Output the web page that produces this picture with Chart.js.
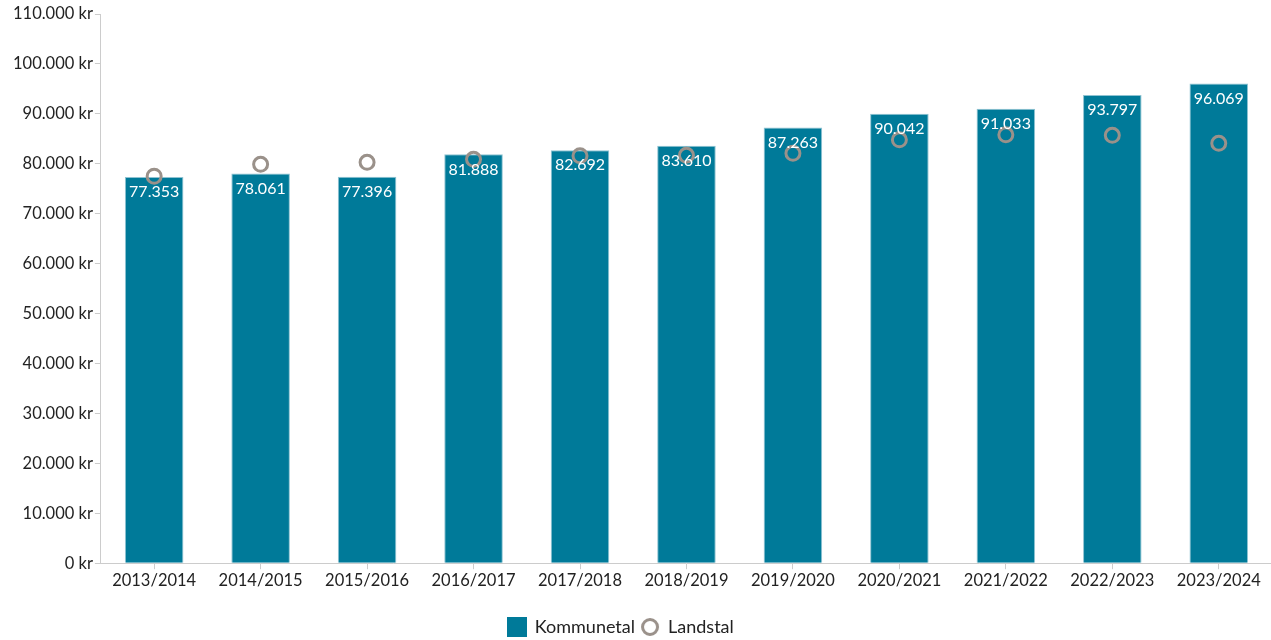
<!DOCTYPE html>
<html>
<head>
<meta charset="utf-8">
<script src="https://cdn.jsdelivr.net/npm/chart.js@4.4.1/dist/chart.umd.min.js"></script>
<style>
  html, body { margin: 0; padding: 0; background: #fff; overflow: hidden; }
  #wrap { width: 1282px; height: 640px; }
</style>
</head>
<body>
<div id="wrap"><canvas id="myChart"></canvas></div>
<script>
const years = ["2013/2014", "2014/2015", "2015/2016", "2016/2017", "2017/2018", "2018/2019",
  "2019/2020", "2020/2021", "2021/2022", "2022/2023", "2023/2024"];
const kommunetal = [77353, 78061, 77396, 81888, 82692, 83610, 87263, 90042, 91033, 93797, 96069];
const landstal = [77500, 79900, 80300, 80900, 81600, 81700, 82100, 84800, 85800, 85700, 84100];

function formatKr(v) {
  return String(Math.round(v)).replace(/\B(?=(\d{3})+(?!\d))/g, ".");
}

// legend symbols drawn as small images
function legendCircle() {
  let c = document.createElement("canvas");
  c.width = 20;
  c.height = 20;
  let g = c.getContext("2d");
  g.strokeStyle = "#9a918a";
  g.lineWidth = 3;
  g.beginPath();
  g.arc(10, 10, 7.5, 0, Math.PI * 2);
  g.stroke();
  return c;
}

function legendSquare() {
  let c = document.createElement("canvas");
  c.width = 20;
  c.height = 20;
  let g = c.getContext("2d");
  g.fillStyle = "#007A99";
  g.fillRect(0, 0, 20, 20);
  return c;
}

const barLabels = {
  id: "barLabels",
  afterDatasetsDraw(chart) {
    const ctx = chart.ctx;
    const meta = chart.getDatasetMeta(0);
    ctx.save();
    ctx.fillStyle = "#ffffff";
    ctx.font = "16px Lato";
    ctx.textAlign = "center";
    ctx.textBaseline = "middle";
    meta.data.forEach(function (bar, i) {
      ctx.fillText(formatKr(kommunetal[i]), bar.x, bar.y + 15);
    });
    ctx.restore();
  }
};

Chart.defaults.font.family = "Lato";
Chart.defaults.color = "#222";

var chartInsertion = document.getElementById("myChart").getContext("2d");
var circleImg = legendCircle();
var squareImg = legendSquare();
var paymentChart = new Chart(chartInsertion, {
  type: "bar",
  data: {
    labels: years,
    datasets: [
      {
        label: "Kommunetal",
        data: kommunetal,
        backgroundColor: "#007A99",
        borderColor: "#8fc3d2",
        borderWidth: 1,
        barPercentage: 0.55,
        categoryPercentage: 1,
        order: 2
      },
      {
        type: "line",
        label: "Landstal",
        data: landstal,
        showLine: false,
        pointStyle: "circle",
        pointRadius: 7,
        pointHoverRadius: 7,
        pointBorderWidth: 3,
        pointBorderColor: "#9a918a",
        pointBackgroundColor: "rgba(0,0,0,0)",
        backgroundColor: "#ffffff",
        borderColor: "#9a918a",
        order: 1
      }
    ]
  },
  options: {
    responsive: true,
    maintainAspectRatio: false,
    animation: false,
    layout: { padding: { left: 11, right: 0, top: 14, bottom: -6 } },
    plugins: {
      legend: {
        position: "bottom",
        labels: {
          usePointStyle: true,
          boxHeight: 20,
          font: { size: 18 },
          color: "#222",
          padding: 6,
          generateLabels: function (chart) {
            return [
              { text: "Kommunetal", pointStyle: squareImg, fillStyle: "#007A99", strokeStyle: "#007A99",
                lineWidth: 0, datasetIndex: 0, fontColor: "#222" },
              { text: "Landstal", pointStyle: circleImg, fillStyle: "#fff", strokeStyle: "#9a918a",
                lineWidth: 0, datasetIndex: 1, fontColor: "#222" },
              // empty spacer so the visible items sit a bit left of centre
              { text: "    ", pointStyle: "rect", fillStyle: "rgba(0,0,0,0)", strokeStyle: "rgba(0,0,0,0)",
                lineWidth: 0, datasetIndex: 2, fontColor: "rgba(0,0,0,0)" }
            ];
          }
        }
      },
      tooltip: { enabled: false }
    },
    scales: {
      x: {
        afterFit: function (scale) {
          scale.height += 19;
          scale.paddingLeft = 0;
          scale.paddingRight = 0;
        },
        grid: { display: true, offset: false, drawOnChartArea: false, color: "#ccc", tickLength: 6 },
        border: { color: "#ccc" },
        ticks: { font: { size: 16.5 }, color: "#222", maxRotation: 0, padding: 2 }
      },
      y: {
        afterFit: function (scale) {
          scale.paddingTop = 0;
          scale.paddingBottom = 0;
        },
        min: 0,
        max: 110000,
        grid: { display: true, drawOnChartArea: false, color: "#ccc", tickLength: 6 },
        border: { color: "#ccc" },
        ticks: {
          stepSize: 10000,
          font: { size: 16.5 },
          color: "#222",
          padding: 2,
          callback: function (v) { return formatKr(v) + " kr"; }
        }
      }
    }
  },
  plugins: [barLabels]
});
</script>
</body>
</html>
